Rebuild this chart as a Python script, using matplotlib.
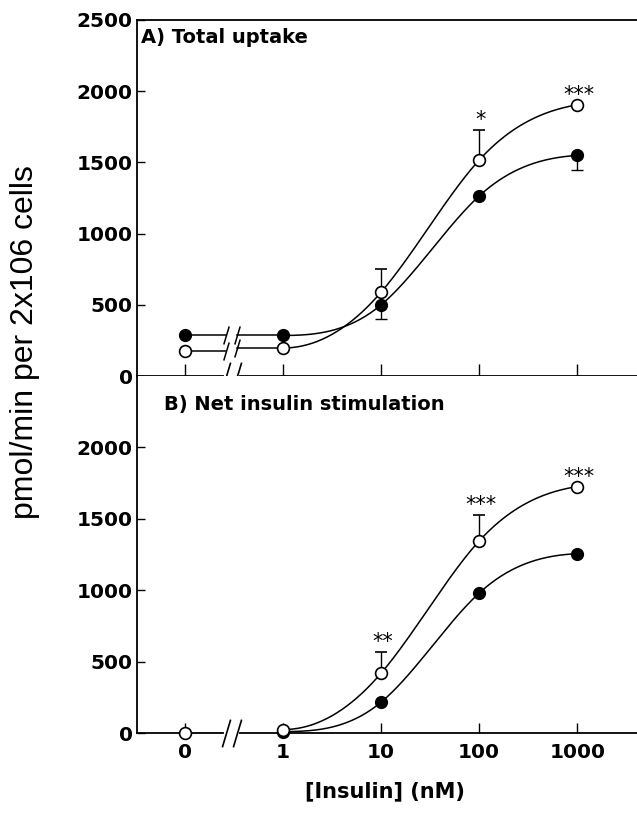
import numpy as np
import matplotlib
matplotlib.use("Agg")
import matplotlib.pyplot as plt

# ---------------------------------------------------------------
# data
# ---------------------------------------------------------------
insulin = [0, 1, 10, 100, 1000]                 # nM
tick_labels = ['0', '1', '10', '100', '1000']

# A) total uptake
a_filled = [285, 285, 500, 1264, 1549]
a_filled_err = [0, 0, 100, 0, 100]               # drawn downwards
a_open = [173, 197, 589, 1516, 1904]
a_open_err = [0, 0, 160, 210, 0]                 # drawn upwards
a_stars = ['', '', '', '*', '***']

# B) net insulin stimulation
b_filled = [np.nan, 10, 216, 980, 1256]
b_filled_err = [0, 0, 0, 0, 0]
b_open = [0, 24, 419, 1345, 1726]
b_open_err = [0, 0, 145, 180, 0]
b_stars = ['', '', '**', '***', '***']

# x position on a log axis, with the zero dose put one decade left of 1 nM
pos = np.array([np.log10(c) if c > 0 else -1.0 for c in insulin])
brk = (-0.58, -0.47)          # where the axis break sits


def smooth(x, y, xn):
    # clamped cubic spline (flat start), only used to draw the smooth fit line
    x = np.asarray(x, float)
    y = np.asarray(y, float)
    n = len(x)
    h = np.diff(x)
    d = np.diff(y) / h
    m_end = max(0.0, ((2 * h[-1] + h[-2]) * d[-1] - h[-1] * d[-2]) / (h[-1] + h[-2]))
    A = np.zeros((n, n))
    b = np.zeros(n)
    A[0, 0] = 1
    b[0] = 0.0
    A[-1, -1] = 1
    b[-1] = m_end
    for i in range(1, n - 1):
        A[i, i - 1] = h[i]
        A[i, i] = 2 * (h[i - 1] + h[i])
        A[i, i + 1] = h[i - 1]
        b[i] = 3 * (h[i] * d[i - 1] + h[i - 1] * d[i])
    m = np.linalg.solve(A, b)
    idx = np.clip(np.searchsorted(x, xn) - 1, 0, n - 2)
    t = (xn - x[idx]) / h[idx]
    h00 = 2 * t**3 - 3 * t**2 + 1
    h10 = t**3 - 2 * t**2 + t
    h01 = -2 * t**3 + 3 * t**2
    h11 = t**3 - t**2
    return h00 * y[idx] + h10 * h[idx] * m[idx] + h01 * y[idx + 1] + h11 * h[idx] * m[idx + 1]


slash = [(-0.3, -1), (0.3, 1)]


def draw_series(ax, yvals, err, filled, flat_start):
    yvals = np.asarray(yvals, float)
    # smooth fit line from 1 nM up
    xs = np.linspace(pos[1], pos[-1], 300)
    ax.plot(xs, smooth(pos[1:], yvals[1:], xs), color='black', lw=1.1, zorder=3)
    # flat piece across the break
    if flat_start:
        y0 = yvals[0]
        ax.plot([pos[0], brk[0]], [y0, y0], color='black', lw=1.1, zorder=3)
        ax.plot([brk[1], pos[1]], [yvals[1], yvals[1]], color='black', lw=1.1, zorder=3)
        ax.plot(brk, [y0, yvals[1]], ls='none', marker=slash, ms=13,
                mfc='none', mec='black', mew=1.1, zorder=3)
    err = np.asarray(err, float)
    if filled:
        yerr = [err, np.zeros_like(err)]
        ax.errorbar(pos, yvals, yerr=yerr, fmt='o', ms=8.5, mfc='black', mec='black',
                    ecolor='black', elinewidth=1.0, capsize=4.5, capthick=1.0,
                    zorder=5, clip_on=False)
    else:
        yerr = [np.zeros_like(err), err]
        ax.errorbar(pos, yvals, yerr=yerr, fmt='o', ms=8.5, mfc='white', mec='black',
                    mew=1.2, ecolor='black', elinewidth=1.0, capsize=4.5, capthick=1.0,
                    zorder=6, clip_on=False)


def draw_stars(ax, yvals, err, stars):
    for x, y, e, s in zip(pos, yvals, err, stars):
        if s:
            ax.annotate(s, (x, y + e), xytext=(1, 0), textcoords='offset points',
                        ha='center', va='bottom', fontsize=15, family='DejaVu Sans')


def draw_break(ax):
    # gap plus two slashes on the x axis line
    ax.plot(brk, [0, 0], color='white', lw=3, zorder=4, clip_on=False,
            transform=ax.get_xaxis_transform())
    ax.plot(brk, [0, 0], ls='none', marker=slash, ms=20, mfc='none', mec='black',
            mew=1.2, zorder=5, clip_on=False, transform=ax.get_xaxis_transform())


fig = plt.figure(figsize=(6.37, 8.14), dpi=100)
ax_a = fig.add_axes([0.215, 0.538, 0.785, 0.4375])
ax_b = fig.add_axes([0.215, 0.0995, 0.785, 0.4385])

for ax in (ax_a, ax_b):
    ax.set_xlim(-1.49, 3.61)
    ax.set_ylim(0, 2500)
    ax.spines['right'].set_visible(False)
    for sp in ax.spines.values():
        sp.set_linewidth(1.3)
    ax.set_xticks(pos)
    ax.tick_params(axis='both', direction='in', length=6, width=1.0)
    ax.tick_params(axis='y', pad=3)

# panel A
ax_a.set_yticks([0, 500, 1000, 1500, 2000, 2500])
ax_a.set_yticklabels(['0', '500', '1000', '1500', '2000', '2500'])
ax_a.tick_params(axis='x', labelbottom=False, length=9)
draw_series(ax_a, a_filled, a_filled_err, True, True)
draw_series(ax_a, a_open, a_open_err, False, True)
draw_stars(ax_a, a_open, a_open_err, a_stars)
draw_break(ax_a)
ax_a.text(0.008, 0.978, 'A) Total uptake', transform=ax_a.transAxes,
          ha='left', va='top', fontsize=14, fontweight='bold')

# panel B
ax_b.spines['top'].set_visible(False)
ax_b.set_yticks([0, 500, 1000, 1500, 2000])
ax_b.set_yticklabels(['0', '500', '1000', '1500', '2000'])
ax_b.set_xticklabels(tick_labels)
ax_b.tick_params(axis='x', pad=7, length=7)
draw_series(ax_b, b_filled, b_filled_err, True, False)
draw_series(ax_b, b_open, b_open_err, False, False)
ax_b.plot([pos[0], brk[0]], [0, 0], color='black', lw=1.0, zorder=3)
draw_stars(ax_b, b_open, b_open_err, b_stars)
draw_break(ax_b)
ax_b.text(0.055, 0.948, 'B) Net insulin stimulation', transform=ax_b.transAxes,
          ha='left', va='top', fontsize=14, fontweight='bold')

for ax in (ax_a, ax_b):
    for lab in ax.get_yticklabels() + ax.get_xticklabels():
        lab.set_fontweight('bold')
        lab.set_fontsize(14.5)

fig.text(0.04, 0.58, 'pmol/min per 2x106 cells', rotation=90, ha='center', va='center',
         fontsize=23, family=['Liberation Sans', 'DejaVu Sans'])
fig.text(0.605, 0.028, '[Insulin] (nM)', ha='center', va='center',
         fontsize=15, fontweight='bold')

fig.savefig('out.png', dpi=100)
